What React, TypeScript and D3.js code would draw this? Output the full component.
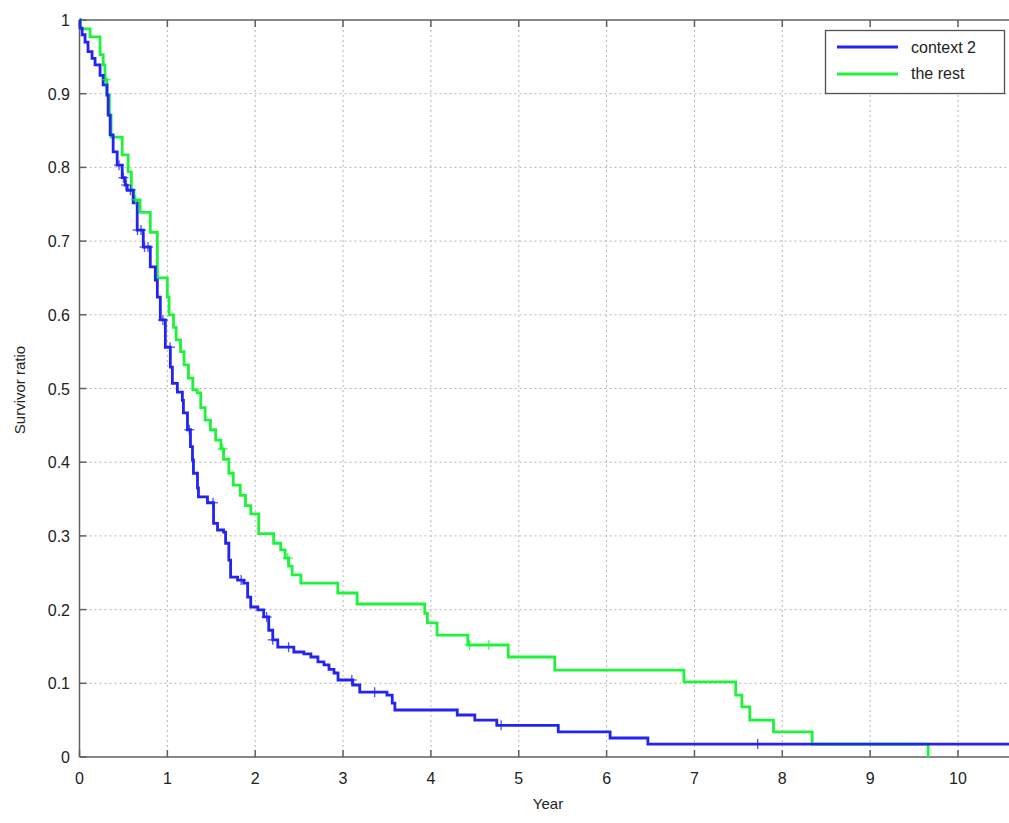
import React from "react";
import * as d3 from "d3";

// Kaplan-Meier style step data (time in years, survivor ratio after the step)
const blueTimes = [0, 0.006, 0.03, 0.063, 0.097, 0.143, 0.177, 0.234, 0.269, 0.314, 0.326, 0.349, 0.383, 0.429, 0.486, 0.52, 0.543, 0.611, 0.657, 0.726, 0.806, 0.863, 0.886, 0.92, 0.977, 1.034, 1.057, 1.114, 1.171, 1.183, 1.229, 1.263, 1.286, 1.297, 1.343, 1.354, 1.457, 1.526, 1.571, 1.64, 1.663, 1.7, 1.72, 1.8, 1.869, 1.914, 1.949, 2.03, 2.097, 2.154, 2.2, 2.257, 2.44, 2.554, 2.634, 2.714, 2.783, 2.84, 2.897, 2.943, 3.11, 3.19, 3.5, 3.56, 3.59, 4.3, 4.5, 4.75, 5.45, 6.04, 6.47];
const blueSurv = [1, 0.989, 0.98, 0.97, 0.957, 0.948, 0.939, 0.925, 0.912, 0.898, 0.871, 0.844, 0.821, 0.803, 0.786, 0.776, 0.769, 0.752, 0.715, 0.692, 0.665, 0.647, 0.624, 0.593, 0.556, 0.529, 0.507, 0.495, 0.484, 0.467, 0.444, 0.421, 0.403, 0.385, 0.365, 0.353, 0.345, 0.317, 0.308, 0.305, 0.29, 0.267, 0.244, 0.24, 0.236, 0.217, 0.2035, 0.1995, 0.19, 0.172, 0.159, 0.149, 0.1425, 0.14, 0.1357, 0.129, 0.125, 0.119, 0.114, 0.1045, 0.0977, 0.088, 0.084, 0.073, 0.0638, 0.057, 0.05, 0.043, 0.034, 0.0258, 0.0176];
const blueCensor = [0.45, 0.5, 0.53, 0.58, 0.66, 0.7, 0.74, 0.78, 0.95, 1.03, 1.25, 1.52, 1.84, 2.13, 2.2, 2.38, 3.1, 3.36, 4.8, 7.72];

const greenTimes = [0, 0.01, 0.12, 0.234, 0.27, 0.29, 0.31, 0.34, 0.36, 0.486, 0.554, 0.59, 0.62, 0.69, 0.806, 0.886, 1.0, 1.02, 1.07, 1.1, 1.15, 1.19, 1.24, 1.29, 1.34, 1.38, 1.43, 1.49, 1.55, 1.61, 1.64, 1.7, 1.75, 1.83, 1.89, 1.95, 2.04, 2.21, 2.29, 2.34, 2.38, 2.42, 2.52, 2.94, 3.16, 3.93, 3.96, 4.07, 4.42, 4.88, 5.41, 6.88, 7.47, 7.54, 7.63, 7.9, 8.34, 9.66];
const greenSurv = [1, 0.988, 0.977, 0.953, 0.939, 0.919, 0.898, 0.871, 0.841, 0.817, 0.794, 0.769, 0.756, 0.739, 0.712, 0.65, 0.624, 0.6, 0.583, 0.566, 0.55, 0.532, 0.514, 0.498, 0.494, 0.474, 0.457, 0.444, 0.43, 0.418, 0.404, 0.385, 0.369, 0.355, 0.341, 0.33, 0.303, 0.29, 0.281, 0.27, 0.259, 0.247, 0.236, 0.2225, 0.2076, 0.195, 0.182, 0.1655, 0.152, 0.1357, 0.118, 0.1018, 0.084, 0.068, 0.05, 0.034, 0.0176, 0];
const greenCensor = [0.3, 0.64, 1.63, 2.37, 4.44, 4.66];

const xTicks = [0, 1, 2, 3, 4, 5, 6, 7, 8, 9, 10];
const yTicks = [0, 0.1, 0.2, 0.3, 0.4, 0.5, 0.6, 0.7, 0.8, 0.9, 1];
const seriesNames = ["context 2", "the rest"];

const BLUE = "#2323f2";
const GREEN = "#1ff23a";
const X_MAX = 10.72;

export default function App() {
  const W = 1009, H = 823;
  const left = 79.5, top = 20, bottom = 757;
  const x = d3.scaleLinear().domain([0, X_MAX]).range([left, left + 87.85 * X_MAX]);
  const y = d3.scaleLinear().domain([0, 1]).range([bottom, top]);

  const line = d3.line<[number, number]>().x(d => x(d[0])).y(d => y(d[1])).curve(d3.curveStepAfter);
  const bluePts: [number, number][] = blueTimes.map((t, i) => [t, blueSurv[i]]);
  bluePts.push([X_MAX, blueSurv[blueSurv.length - 1]]);
  const greenPts: [number, number][] = greenTimes.map((t, i) => [t, greenSurv[i]]);

  const stepAt = (times: number[], surv: number[], t: number) => {
    let s = surv[0];
    for (let i = 0; i < times.length; i++) if (times[i] <= t) s = surv[i];
    return s;
  };

  const font = "'Liberation Sans', Arial, Helvetica, sans-serif";
  const axisColor = "#606060";
  const gridColor = "#b5b5b5";
  const plotRight = W + 5;

  const cross = (cx: number, cy: number, color: string, key: string) => (
    <g key={key} stroke={color} strokeWidth={1.3} opacity={0.8}>
      <line x1={cx - 5} x2={cx + 5} y1={cy} y2={cy} />
      <line x1={cx} x2={cx} y1={cy - 5} y2={cy + 5} />
    </g>
  );

  return (
    <svg width={W} height={H} style={{ position: "absolute", left: 0, top: 0, background: "#fff" }} fontFamily={font}>
      <rect x={0} y={0} width={W} height={H} fill="#fff" />
      {/* grid */}
      {xTicks.filter(t => t > 0).map(t => (
        <line key={"gx" + t} x1={x(t)} x2={x(t)} y1={top} y2={bottom} stroke={gridColor} strokeWidth={1} strokeDasharray="2,3" />
      ))}
      {yTicks.filter(t => t > 0 && t < 1).map(t => (
        <line key={"gy" + t} x1={left} x2={plotRight} y1={y(t)} y2={y(t)} stroke={gridColor} strokeWidth={1} strokeDasharray="2,3" />
      ))}
      {/* axes frame */}
      <line x1={left} x2={plotRight} y1={top} y2={top} stroke={axisColor} strokeWidth={1.5} />
      <line x1={left} x2={plotRight} y1={bottom} y2={bottom} stroke={axisColor} strokeWidth={1.5} />
      <line x1={left} x2={left} y1={top} y2={bottom} stroke={axisColor} strokeWidth={1.5} />
      {/* ticks */}
      {xTicks.map(t => (
        <g key={"tx" + t} stroke={axisColor} strokeWidth={1.5}>
          <line x1={x(t)} x2={x(t)} y1={bottom} y2={bottom - 7} />
          <line x1={x(t)} x2={x(t)} y1={top} y2={top + 7} />
        </g>
      ))}
      {yTicks.map(t => (
        <line key={"ty" + t} x1={left} x2={left + 7} y1={y(t)} y2={y(t)} stroke={axisColor} strokeWidth={1.5} />
      ))}
      {/* tick labels */}
      {xTicks.map(t => (
        <text key={"lx" + t} x={x(t)} y={784} textAnchor="middle" fontSize={16} fill="#222">{t}</text>
      ))}
      {yTicks.map(t => (
        <text key={"ly" + t} x={70} y={y(t) + 6} textAnchor="end" fontSize={16} fill="#222">{t}</text>
      ))}
      <text x={548} y={809} textAnchor="middle" fontSize={15} fill="#222">Year</text>
      <text transform="translate(25,390) rotate(-90)" textAnchor="middle" fontSize={15} fill="#222">Survivor ratio</text>

      {/* curves */}
      <path d={line(greenPts) || ""} fill="none" stroke={GREEN} strokeWidth={2.8} />
      <path d={line(bluePts) || ""} fill="none" stroke={BLUE} strokeWidth={2.8} />
      {greenCensor.map((t, i) => cross(x(t), y(stepAt(greenTimes, greenSurv, t)), GREEN, "gc" + i))}
      {blueCensor.map((t, i) => cross(x(t), y(stepAt(blueTimes, blueSurv, t)), BLUE, "bc" + i))}

      {/* legend */}
      <rect x={825.5} y={30.5} width={179} height={63} fill="#fff" stroke="#505050" strokeWidth={1.3} />
      <line x1={837} x2={898} y1={47} y2={47} stroke={BLUE} strokeWidth={2.8} />
      <line x1={837} x2={898} y1={74} y2={74} stroke={GREEN} strokeWidth={2.8} />
      <text x={911} y={53} fontSize={16} fill="#222">{seriesNames[0]}</text>
      <text x={911} y={79} fontSize={16} fill="#222">{seriesNames[1]}</text>
    </svg>
  );
}
